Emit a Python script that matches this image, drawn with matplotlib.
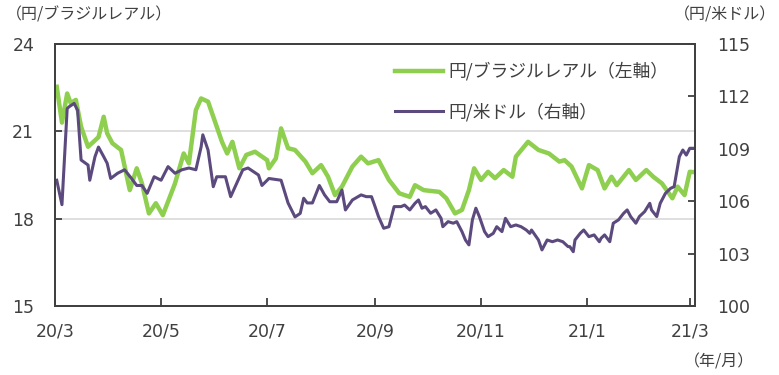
import datetime as dt
import matplotlib
matplotlib.use("Agg")
import matplotlib.pyplot as plt
import matplotlib.dates as mdates
from matplotlib.ticker import FuncFormatter

plt.rcParams['font.family'] = ['Noto Sans CJK JP', 'DejaVu Sans']

# 円/ブラジルレアル（左軸）
brl_dates = ["2020-03-02", "2020-03-05", "2020-03-08", "2020-03-10", "2020-03-13", "2020-03-16",
             "2020-03-20", "2020-03-26", "2020-03-29", "2020-03-31", "2020-04-03", "2020-04-08",
             "2020-04-13", "2020-04-17", "2020-04-20", "2020-04-24", "2020-04-28", "2020-05-02",
             "2020-05-09", "2020-05-14", "2020-05-17", "2020-05-21", "2020-05-24", "2020-05-28",
             "2020-06-02", "2020-06-05", "2020-06-08", "2020-06-11", "2020-06-15", "2020-06-19",
             "2020-06-24", "2020-07-01", "2020-07-02", "2020-07-06", "2020-07-09", "2020-07-13",
             "2020-07-17", "2020-07-23", "2020-07-27", "2020-08-01", "2020-08-05", "2020-08-09",
             "2020-08-13", "2020-08-19", "2020-08-24", "2020-08-28", "2020-09-03", "2020-09-09",
             "2020-09-15", "2020-09-21", "2020-09-24", "2020-09-29", "2020-10-08", "2020-10-12",
             "2020-10-17", "2020-10-21", "2020-10-25", "2020-10-28", "2020-11-01", "2020-11-05",
             "2020-11-09", "2020-11-14", "2020-11-19", "2020-11-21", "2020-11-28", "2020-12-04",
             "2020-12-10", "2020-12-16", "2020-12-19", "2020-12-23", "2020-12-29", "2021-01-02",
             "2021-01-07", "2021-01-11", "2021-01-15", "2021-01-18", "2021-01-25", "2021-01-29",
             "2021-02-04", "2021-02-08", "2021-02-13", "2021-02-19", "2021-02-22", "2021-02-26",
             "2021-03-01", "2021-03-03"]
brl_values = [22.53, 21.30, 22.30, 21.97, 22.08, 21.16,
              20.47, 20.80, 21.50, 20.93, 20.59, 20.36,
              18.98, 19.73, 19.21, 18.18, 18.53, 18.12,
              19.21, 20.24, 19.90, 21.73, 22.13, 22.02,
              21.16, 20.64, 20.24, 20.64, 19.73, 20.19,
              20.30, 20.01, 19.73, 20.07, 21.10, 20.42,
              20.36, 19.96, 19.56, 19.84, 19.44, 18.81,
              19.10, 19.79, 20.13, 19.90, 20.01, 19.33,
              18.87, 18.75, 19.15, 18.98, 18.92, 18.70,
              18.18, 18.30, 18.98, 19.73, 19.33, 19.61,
              19.39, 19.67, 19.44, 20.13, 20.64, 20.36,
              20.24, 19.96, 20.01, 19.79, 19.04, 19.84,
              19.67, 19.04, 19.44, 19.15, 19.67, 19.33,
              19.67, 19.44, 19.21, 18.70, 19.10, 18.81,
              19.61, 19.60]

# 円/米ドル（右軸）
usd_dates = ["2020-03-02", "2020-03-05", "2020-03-08", "2020-03-09", "2020-03-12", "2020-03-14",
             "2020-03-16", "2020-03-20", "2020-03-21", "2020-03-24", "2020-03-26", "2020-03-29",
             "2020-03-31", "2020-04-02", "2020-04-06", "2020-04-10", "2020-04-14", "2020-04-17",
             "2020-04-20", "2020-04-23", "2020-04-27", "2020-05-01", "2020-05-05", "2020-05-09",
             "2020-05-13", "2020-05-17", "2020-05-21", "2020-05-24", "2020-05-25", "2020-05-28",
             "2020-05-31", "2020-06-02", "2020-06-07", "2020-06-10", "2020-06-17", "2020-06-20",
             "2020-06-26", "2020-06-28", "2020-07-02", "2020-07-09", "2020-07-13", "2020-07-17",
             "2020-07-20", "2020-07-22", "2020-07-24", "2020-07-27", "2020-07-31", "2020-08-03",
             "2020-08-06", "2020-08-10", "2020-08-13", "2020-08-15", "2020-08-19", "2020-08-24",
             "2020-08-27", "2020-08-30", "2020-09-01", "2020-09-03", "2020-09-06", "2020-09-09",
             "2020-09-12", "2020-09-16", "2020-09-18", "2020-09-21", "2020-09-24", "2020-09-26",
             "2020-09-28", "2020-09-30", "2020-10-03", "2020-10-06", "2020-10-09", "2020-10-10",
             "2020-10-13", "2020-10-16", "2020-10-18", "2020-10-21", "2020-10-23", "2020-10-25",
             "2020-10-27", "2020-10-29", "2020-10-31", "2020-11-03", "2020-11-05", "2020-11-08",
             "2020-11-10", "2020-11-13", "2020-11-15", "2020-11-18", "2020-11-21", "2020-11-24",
             "2020-11-27", "2020-11-29", "2020-11-30", "2020-12-02", "2020-12-04", "2020-12-06",
             "2020-12-09", "2020-12-12", "2020-12-15", "2020-12-18", "2020-12-21", "2020-12-22",
             "2020-12-24", "2020-12-25", "2020-12-28", "2020-12-30", "2021-01-02", "2021-01-05",
             "2021-01-08", "2021-01-09", "2021-01-11", "2021-01-14", "2021-01-16", "2021-01-19",
             "2021-01-22", "2021-01-24", "2021-01-26", "2021-01-29", "2021-01-31", "2021-02-03",
             "2021-02-06", "2021-02-07", "2021-02-10", "2021-02-12", "2021-02-15", "2021-02-18",
             "2021-02-20", "2021-02-21", "2021-02-23", "2021-02-25", "2021-02-27", "2021-03-01",
             "2021-03-03"]
usd_values = [107.20, 105.80, 111.30, 111.40, 111.60, 111.20,
              108.36, 108.07, 107.20, 108.55, 109.10, 108.55,
              108.17, 107.30, 107.60, 107.80, 107.30, 106.90,
              106.90, 106.45, 107.40, 107.20, 107.98, 107.60,
              107.80, 107.90, 107.80, 109.10, 109.80, 108.93,
              106.83, 107.40, 107.40, 106.26, 107.80, 107.90,
              107.50, 106.90, 107.30, 107.20, 105.90, 105.10,
              105.30, 106.17, 105.90, 105.90, 106.90, 106.36,
              105.97, 105.97, 106.64, 105.50, 106.07, 106.36,
              106.26, 106.26, 105.70, 105.12, 104.45, 104.54,
              105.69, 105.69, 105.78, 105.50, 105.88, 106.07,
              105.60, 105.69, 105.31, 105.50, 105.02, 104.54,
              104.83, 104.74, 104.83, 104.26, 103.78, 103.50,
              104.93, 105.60, 105.12, 104.26, 103.97, 104.16,
              104.54, 104.26, 105.02, 104.54, 104.64, 104.54,
              104.35, 104.16, 104.35, 104.07, 103.78, 103.21,
              103.78, 103.68, 103.78, 103.68, 103.40, 103.40,
              103.11, 103.78, 104.16, 104.35, 103.97, 104.07,
              103.68, 103.88, 104.07, 103.68, 104.74, 104.93,
              105.31, 105.50, 105.12, 104.74, 105.12, 105.40,
              105.88, 105.50, 105.12, 105.88, 106.45, 106.74,
              106.83, 107.40, 108.55, 108.93, 108.64, 109.03,
              109.03]

left_ticks = [15, 18, 21, 24]
right_ticks = [100, 103, 106, 109, 112, 115]

green = "#8fcf4f"
purple = "#5c4a7e"
dark = "#404040"

to_date = lambda s: dt.datetime.strptime(s, "%Y-%m-%d")
bx = [to_date(s) for s in brl_dates]
ux = [to_date(s) for s in usd_dates]

fig = plt.figure(figsize=(7.79, 3.75), dpi=100)
ax = fig.add_axes([55 / 779, 1 - 306 / 375, 640 / 779, 262 / 375])
ax2 = ax.twinx()

l1, = ax.plot(bx, brl_values, color=green, lw=3.2, solid_joinstyle="round")
l2, = ax2.plot(ux, usd_values, color=purple, lw=2.2, solid_joinstyle="round")

ax.set_xlim(dt.datetime(2020, 3, 1), dt.datetime(2021, 3, 4))
ax.set_ylim(15, 24)
ax2.set_ylim(100, 115)
ax.set_yticks(left_ticks)
ax2.set_yticks(right_ticks)
ax.grid(axis="y", color="#d9d9d9", lw=1.2)
ax.set_axisbelow(True)

ax.xaxis.set_major_locator(mdates.MonthLocator(bymonth=[1, 3, 5, 7, 9, 11]))
ax.xaxis.set_major_formatter(FuncFormatter(
    lambda v, p: "%d/%d" % (mdates.num2date(v).year % 100, mdates.num2date(v).month)))

for a in (ax, ax2):
    for sp in a.spines.values():
        sp.set_color(dark)
        sp.set_linewidth(1.3)
ax.tick_params(axis="x", direction="in", length=6, width=1.3, color=dark,
               labelsize=12.5, labelcolor=dark, pad=12)
ax.tick_params(axis="y", direction="in", length=5, width=1.3, color=dark,
               labelsize=12.5, labelcolor=dark, pad=15)
ax2.tick_params(axis="y", direction="in", length=5, width=1.3, color=dark,
                labelsize=12.5, labelcolor=dark, pad=16)
for lab in ax.get_xticklabels() + ax.get_yticklabels() + ax2.get_yticklabels():
    lab.set_family("DejaVu Sans")

fig.text(6 / 779, 1 - 15 / 375, "（円/ブラジルレアル）", fontsize=11.5, color=dark,
         ha="left", va="center")
fig.text(674 / 779, 1 - 15 / 375, "（円/米ドル）", fontsize=11.5, color=dark,
         ha="left", va="center")
fig.text(684 / 779, 1 - 362 / 375, "（年/月）", fontsize=11.5, color=dark,
         ha="left", va="center")

ax2.legend([l1, l2], ["円/ブラジルレアル（左軸）", "円/米ドル（右軸）"],
           loc="upper left", bbox_to_anchor=(395 / 779, 1 - 62 / 375),
           bbox_transform=fig.transFigure, frameon=False, fontsize=12.8,
           handlelength=2.7, handletextpad=0.3, labelspacing=1.25,
           borderpad=0, borderaxespad=0, labelcolor=dark)

fig.savefig("out.png", dpi=100)
